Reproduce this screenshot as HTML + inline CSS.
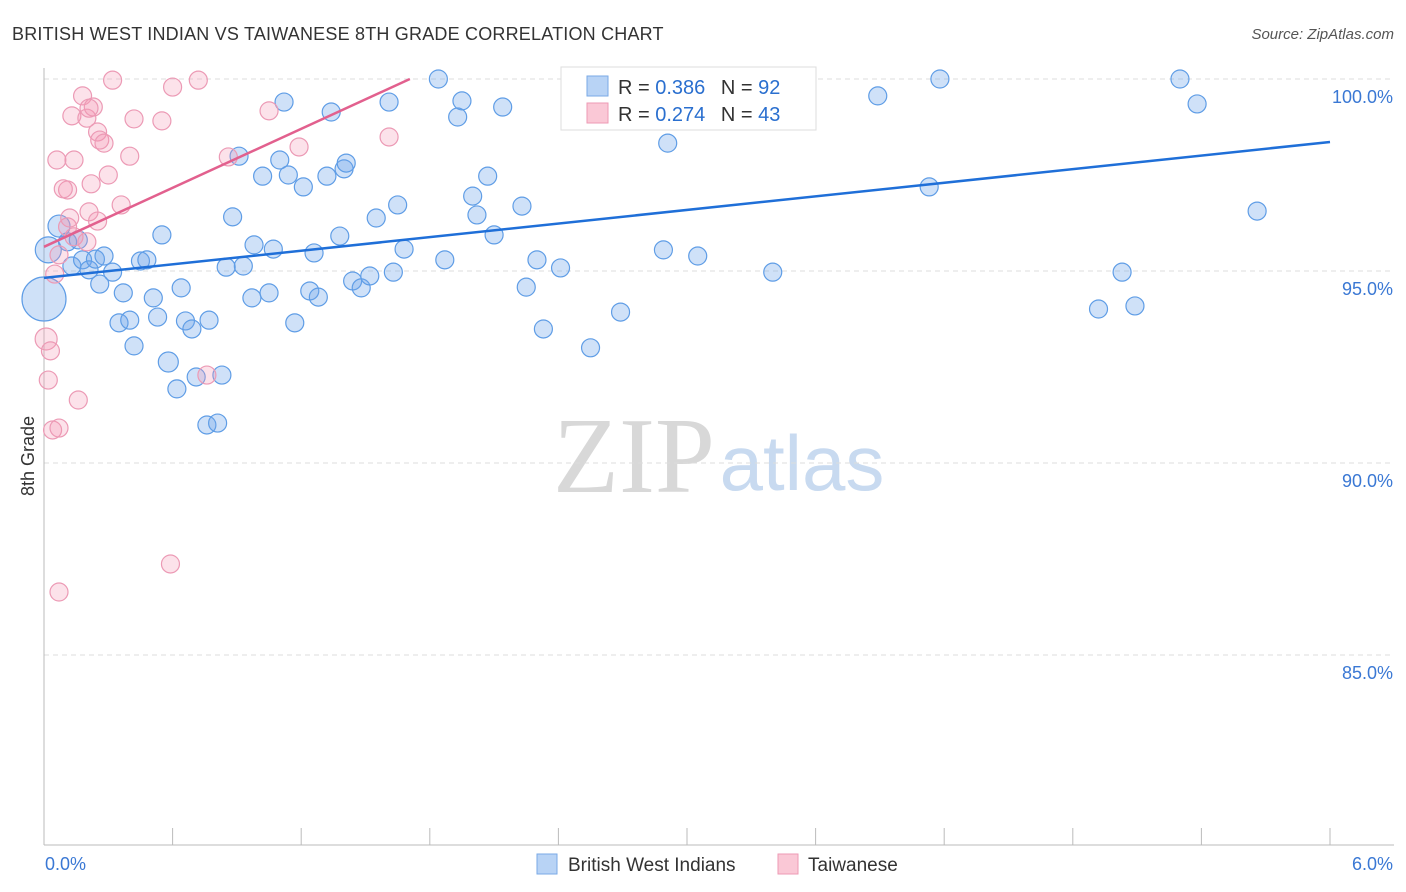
<!DOCTYPE html>
<html><head><meta charset="utf-8"><style>
body{margin:0;background:#fff;font-family:"Liberation Sans",sans-serif;}
#wrap{position:relative;width:1406px;height:892px;overflow:hidden;}
</style></head><body>
<div id="wrap">
<svg id="svg" width="1406" height="892" xmlns="http://www.w3.org/2000/svg">
<text x="12" y="40" font-size="18" letter-spacing="0.2" fill="#333">BRITISH WEST INDIAN VS TAIWANESE 8TH GRADE CORRELATION CHART</text>
<text x="1394" y="39" font-size="15" fill="#555" text-anchor="end" font-style="italic">Source: ZipAtlas.com</text>
<text x="34" y="456" font-size="18" fill="#333" text-anchor="middle" transform="rotate(-90 34 456)">8th Grade</text>
<g><text x="634" y="492" font-size="108" fill="#d8d8d8" font-family="Liberation Serif,serif" text-anchor="middle">ZIP</text><text x="802" y="490" font-size="78" fill="#c8daf0" text-anchor="middle">atlas</text></g>
<g id="grid"></g><g id="axes"></g><g id="pts"></g><g id="lines"></g>
<g>
<rect x="561" y="67" width="255" height="63" fill="#fff" stroke="#ddd"/>
<rect x="587" y="76" width="21" height="20" fill="#b8d3f5" stroke="#7aaae6"/>
<rect x="587" y="103" width="21" height="20" fill="#fac8d6" stroke="#ee9ab4"/>
<text x="618" y="94" font-size="20" fill="#333">R = <tspan fill="#2a6fcf">0.386</tspan>  <tspan dx="10">N = </tspan><tspan fill="#2a6fcf">92</tspan></text>
<text x="618" y="121" font-size="20" fill="#333">R = <tspan fill="#2a6fcf">0.274</tspan>  <tspan dx="10">N = </tspan><tspan fill="#2a6fcf">43</tspan></text>
</g>
<g>
<rect x="537" y="854" width="20" height="20" fill="#b8d3f5" stroke="#7aaae6"/>
<text x="568" y="871" font-size="19" fill="#333">British West Indians</text>
<rect x="778" y="854" width="20" height="20" fill="#fac8d6" stroke="#ee9ab4"/>
<text x="808" y="871" font-size="19" fill="#333">Taiwanese</text>
</g>
</svg></div>
<script>
const yTicks=[100,95,90,85];
const yTickLabels=["100.0%","95.0%","90.0%","85.0%"];
const xTickLabels=["0.0%","6.0%"];
const blueX=[.02,0,.07,.11,.13,.18,.16,.21,.26,.24,.28,.32,.37,.35,.40,.42,.45,.48,.51,.53,.55,.58,.62,.64,.66,.69,.71,.76,.77,.81,.83,.85,.88,.91,.93,.97,.98,1.02,1.05,1.07,1.10,1.12,1.14,1.17,1.21,1.24,1.26,1.28,1.32,1.34,1.38,1.40,1.41,1.44,1.48,1.52,1.55,1.61,1.63,1.65,1.68,1.84,1.87,1.93,1.95,2.00,2.02,2.07,2.10,2.14,2.23,2.25,2.30,2.33,2.41,2.55,2.69,2.89,2.91,3.05,3.36,3.40,3.51,3.89,4.13,4.18,4.92,5.03,5.09,5.30,5.38,5.66];
const blueY=[95.55,94.27,96.17,95.76,95.13,95.29,95.81,95.03,94.66,95.31,95.39,94.97,94.43,93.65,93.72,93.05,95.26,95.29,94.30,93.80,95.94,92.63,91.93,94.56,93.70,93.49,92.24,90.99,93.72,91.04,92.29,95.10,96.41,97.99,95.13,94.30,95.68,97.47,94.43,95.57,97.89,99.40,97.50,93.65,97.19,94.48,95.47,94.32,97.47,99.14,95.91,97.66,97.81,94.74,94.56,94.87,96.38,99.40,94.97,96.72,95.57,100,95.29,99.01,99.43,96.95,96.46,97.47,95.94,99.27,96.69,94.58,95.29,93.49,95.08,93.00,93.93,95.55,98.33,95.39,99.11,94.97,99.92,99.56,97.19,100,94.01,94.97,94.09,100,99.35,96.56];
const blueSize=[13,22,11,9,9,9,9,9,9,9,9,9,9,9,9,9,9,9,9,9,9,10];
const pinkX=[.01,.02,.03,.05,.04,.07,.07,.06,.07,.11,.12,.13,.14,.14,.11,.09,.16,.18,.20,.20,.21,.22,.23,.25,.25,.26,.28,.30,.32,.36,.40,.42,.55,.59,.60,.72,.76,.86,1.05,1.19,1.61,.21];
const pinkY=[93.23,92.16,92.92,94.92,90.86,90.91,86.64,97.89,95.42,96.15,96.38,99.04,95.89,97.89,97.11,97.14,91.64,99.56,98.98,95.76,96.54,97.27,99.27,96.30,98.62,98.41,98.33,97.50,99.97,96.72,97.99,98.96,98.91,87.37,99.79,99.97,92.29,97.97,99.17,98.23,98.49,99.24];
const pinkSize=[11];
const blueTrend=[94.82,98.36];
const pinkTrend=[95.63,2.56];
const X=v=>44+v/6*1286, Y=v=>79+(100-v)/5*192;
const NS="http://www.w3.org/2000/svg";
function mk(parent,tag,attrs){const e=document.createElementNS(NS,tag);for(const k in attrs)e.setAttribute(k,attrs[k]);document.getElementById(parent).appendChild(e);return e;}
yTicks.forEach((t,i)=>{
 const g=mk('grid','line',{x1:44,x2:1394,y1:Y(t),y2:Y(t),stroke:'#ddd','stroke-dasharray':'5,4'});
 
 
 const l=mk('grid','text',{x:1393,y:Y(t)+24,'font-size':18,fill:'#3a78d4','text-anchor':'end'});l.textContent=yTickLabels[i];
 
 
});
const ax=mk('axes','line',{x1:44,x2:44,y1:68,y2:845,stroke:'#bbb'});


const bx=mk('axes','line',{x1:44,x2:1394,y1:845,y2:845,stroke:'#bbb'});


for(let i=0;i<=10;i++){const t=mk('axes','line',{x1:X(i*0.6),x2:X(i*0.6),y1:828,y2:845,stroke:'#bbb'});
 
 }
[[0,'start'],[6,'end']].forEach(([v,a],i)=>{const t=mk('axes','text',{x:i?1393:45,y:870,'font-size':18,fill:'#3a78d4','text-anchor':a});t.textContent=xTickLabels[i];
 
 });
blueX.forEach((v,i)=>{const c=mk('pts','circle',{cx:X(v),cy:Y(blueY[i]),r:blueSize[i]||9,fill:'rgba(110,165,235,0.33)',stroke:'#5f9de6','stroke-width':1.2});
 
 });
pinkX.forEach((v,i)=>{const c=mk('pts','circle',{cx:X(v),cy:Y(pinkY[i]),r:pinkSize[i]||9,fill:'rgba(245,150,180,0.28)',stroke:'#ec9ab5','stroke-width':1.2});
 
 });
const bl=mk('lines','line',{x1:X(0),y1:Y(blueTrend[0]),x2:X(6),y2:Y(blueTrend[1]),stroke:'#1f6fd8','stroke-width':2.5});


const pe=(100-pinkTrend[0])/pinkTrend[1];
const pl=mk('lines','line',{x1:X(0),y1:Y(pinkTrend[0]),x2:X(pe),y2:Y(100),stroke:'#e2608e','stroke-width':2.5});


</script>
</body></html>
